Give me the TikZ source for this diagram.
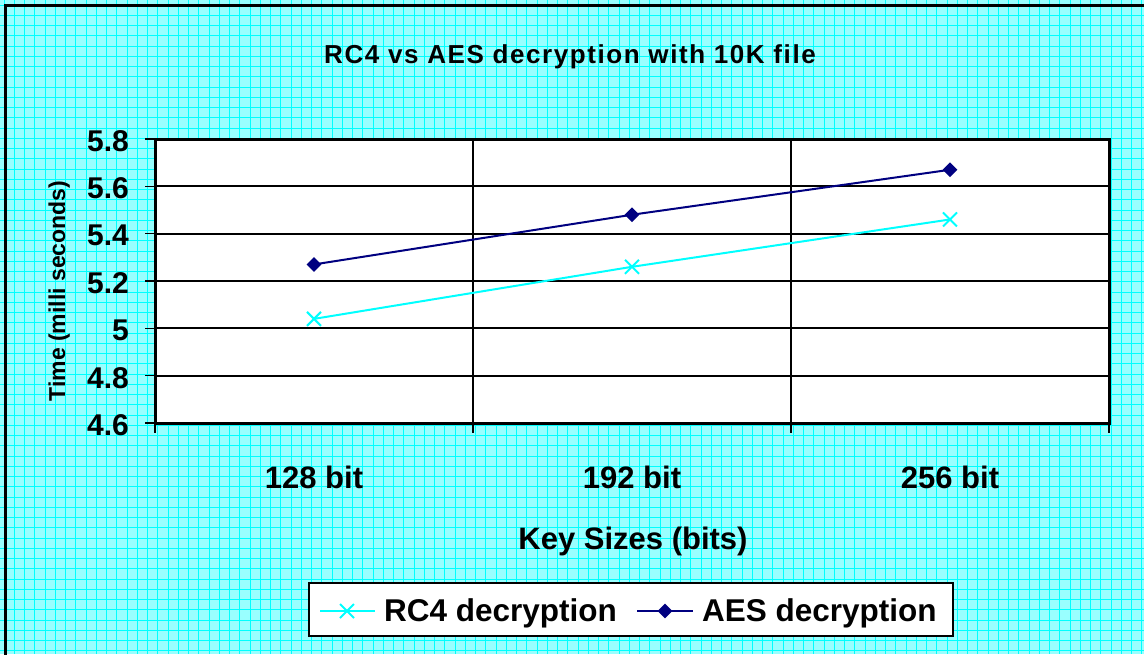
\documentclass[tikz,border=0pt]{standalone}
\usepackage{fontspec}
\setmainfont{Liberation Sans}
\usetikzlibrary{shapes.geometric, shapes.misc, positioning}
\definecolor{bgcyan}{RGB}{153,255,255}
\definecolor{gridcyan}{RGB}{0,255,255}
\definecolor{rccol}{RGB}{0,255,255}
\definecolor{aescol}{RGB}{0,0,128}

\begin{document}
\begin{tikzpicture}[x=1pt, y=-1pt,
bgline/.style={draw=gridcyan, line width=0.9pt},
outerframe/.style={draw=black, line width=3pt},
plotborder/.style={draw=black, line width=3pt},
rulerline/.style={draw=black, line width=1.8pt},
axtick/.style={draw=black, line width=1.5pt},
ticklabel/.style={font=\fontsize{30}{33}\selectfont\bfseries, anchor=east, inner sep=0pt},
catlabel/.style={font=\fontsize{31}{34}\selectfont\bfseries, anchor=base, inner sep=0pt},
rcline/.style={draw=rccol, line width=2pt},
aesline/.style={draw=aescol, line width=2pt},
rcmark/.style={cross out, draw=rccol, line width=2pt, minimum size=12pt, inner sep=0pt},
aesmark/.style={diamond, fill=aescol, minimum size=15pt, inner sep=0pt},
legendbox/.style={draw=black, line width=2pt, fill=white},
legtext/.style={font=\fontsize{31.5}{34}\selectfont\bfseries, anchor=base west, inner sep=0pt}
]
\path[use as bounding box] (0,0) rectangle (1144,654);
\clip (0,0) rectangle (1144,654);

% background with small grid
\fill[bgcyan] (0,0) rectangle (1144,654);
\foreach \i in {0,...,111} \draw[bgline] ({4+10.25*\i},0) -- ++(0,654);
\foreach \j in {0,...,63} \draw[bgline] (0,{5+10.25*\j}) -- ++(1144,0);
\draw[outerframe] (5,5.5) rectangle (1160,670);

\node[font=\fontsize{26}{29}\selectfont\bfseries\addfontfeature{LetterSpace=6}, anchor=base, inner sep=0pt] (title) at (570,63) {RC4 vs AES decryption with 10K file};

% plot area
\fill[white] (155,139) rectangle (1109,423);
\foreach \k/\lab in {0/4.6,1/4.8,2/5,3/5.2,4/5.4,5/5.6,6/5.8} {
  \draw[rulerline] (155,{423-47.333*\k}) -- (1109,{423-47.333*\k});
  \draw[axtick] (145,{423-47.333*\k}) -- (155,{423-47.333*\k});
  \node[ticklabel] (ylab\k) at (129,{425-47.333*\k}) {\lab};
}
\draw[rulerline] (473,139) -- (473,423);
\draw[rulerline] (791,139) -- (791,423);
\foreach \x in {155,473,791,1109} \draw[axtick] (\x,423) -- (\x,433);
\draw[plotborder] (155,139) rectangle (1109,423);

\foreach \i/\lab in {0/128,1/192,2/256}
  \node[catlabel] (cat\lab) at ({314+318*\i},488) {\lab\ bit};
\node[catlabel] (xtitle) at (633,549) {Key Sizes (bits)};
\node[font=\fontsize{23}{26}\selectfont\bfseries, rotate=90, anchor=base, inner sep=0pt] (ytitle) at (65,291) {Time (milli seconds)};

% data
\foreach \i/\r/\a in {0/5.04/5.27, 1/5.26/5.48, 2/5.46/5.67} {
  \coordinate (rc\i) at ({314+318*\i},{423-(\r-4.6)*236.67});
  \coordinate (aes\i) at ({314+318*\i},{423-(\a-4.6)*236.67});
}
\draw[rcline] (rc0) -- (rc1) -- (rc2);
\draw[aesline] (aes0) -- (aes1) -- (aes2);
\foreach \i in {0,1,2} {
  \node[rcmark] (rcm\i) at (rc\i) {};
  \node[aesmark] (aesm\i) at (aes\i) {};
}

% legend
\draw[legendbox] (309,583) rectangle (953,636);
\coordinate (rckeyA) at (320,611);
\coordinate (rckeyB) at (375,611);
\draw[rcline] (rckeyA) -- (rckeyB);
\node[rcmark] (rckey) at (347,611) {};
\node[legtext] (rctext) at (384,621) {RC4 decryption};
\coordinate (aeskeyA) at (637,611);
\coordinate (aeskeyB) at (693,611);
\draw[aesline] (aeskeyA) -- (aeskeyB);
\node[aesmark] (aeskey) at (665,611) {};
\node[legtext] (aestext) at (702,621) {AES decryption};
\end{tikzpicture}
\end{document}
